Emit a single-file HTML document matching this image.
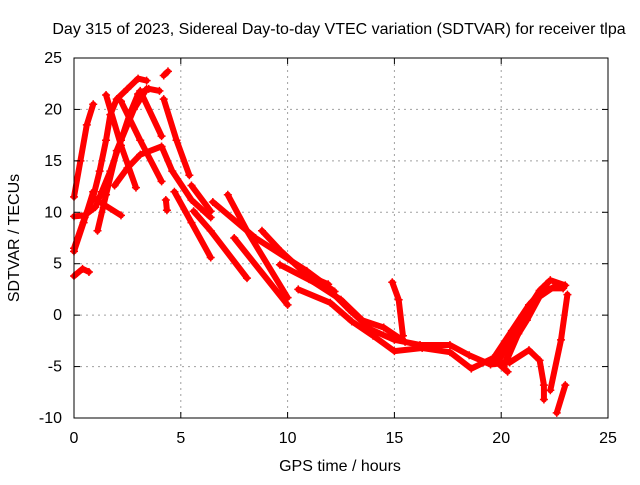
<!DOCTYPE html>
<html><head><meta charset="utf-8"><style>
body{margin:0;background:#fff}
svg text{font-family:"Liberation Sans",sans-serif;font-size:16px;fill:#000}
</style></head><body>
<svg width="640" height="480" id="c">
<text x="339" y="34" text-anchor="middle">Day 315 of 2023, Sidereal Day-to-day VTEC variation (SDTVAR) for receiver tlpa</text>
<text x="340" y="471" text-anchor="middle">GPS time / hours</text>
<text transform="translate(19,238) rotate(-90)" text-anchor="middle">SDTVAR / TECUs</text>
<g id="grid"></g>
<g id="marks"></g>
<rect x="74" y="58" width="534" height="360" fill="none" stroke="#000" stroke-width="1"/>
<g id="ticks"></g>
</svg>
<script>
const xTicks=[0,5,10,15,20,25];
const yTicks=[-10,-5,0,5,10,15,20,25];
const track1=[[0,11.5],[0.3,15],[0.6,18.5],[0.9,20.5]];
const track2=[[0,6.5],[0.5,9.5],[0.9,11.5],[1.2,14],[1.5,17],[1.7,19.5],[2,21],[2.5,22],[3,23],[3.4,22.8]];
const track3=[[0,9.6],[0.5,9.7],[1,10.5],[1.3,12],[1.7,14],[2.2,17],[2.6,19.5],[3,21.5],[3.5,22],[4,21.8]];
const track4=[[0,3.8],[0.4,4.5],[0.7,4.2]];
const track5=[[0,6.2],[0.45,9],[0.9,12]];
const track6=[[1.1,8.2],[1.5,11.7],[2,16],[2.8,20],[3.4,22]];
const track7=[[1.5,21.4],[2.2,16.5],[2.9,12.4]];
const track8=[[2.2,20.8],[3.1,17],[4.1,13]];
const track9=[[3.1,21.8],[4.1,17.4]];
const track10=[[4.2,21],[4.8,17],[5.4,13.6]];
const track11=[[1.9,12.6],[2.5,14.3],[3.1,15.6],[4.1,16.4],[4.6,14],[5.5,11.2],[6.4,9.5]];
const track12=[[0.9,11.4],[2.2,9.7]];
const track13=[[4.7,12],[5.5,9],[6.4,5.6]];
const track14=[[6.5,11],[8.5,7.5],[10.9,4.3],[12.2,2.3]];
const track15=[[7.2,11.7],[8.1,8.2],[10,1.7]];
const track16=[[8.8,8.2],[9.7,6.2],[10.9,3.9],[11.9,3.0]];
const track17=[[5.5,12.6],[6.4,10.1]];
const track18=[[5.6,10.1],[6.4,8.2],[8.1,3.6]];
const track19=[[7.5,7.5],[10,1]];
const track20=[[9.64,4.9],[11.98,2.4],[12.9,0.5],[13.9,-1.4],[15,-2.4],[16.2,-2.9],[17.6,-2.9],[18.5,-3.9],[19.5,-4.8],[20.4,-4.6],[21.3,-3.4],[21.8,-4.4],[22,-6.8],[22,-8.2]];
const track21=[[10.5,2.5],[12,1.2],[13,-0.6],[14,-2],[15,-3.5],[16.3,-3.2],[17.6,-3.6],[18.6,-5.2],[19.6,-4.2],[20.3,-5.5]];
const track22=[[19.9,-4.4],[20.9,-0.5],[21.8,2.4],[22.3,3.4],[23,2.9]];
const track23=[[19.7,-4],[20.5,-1.5],[21.3,1],[22,2.6],[22.9,2.6]];
const track24=[[22.3,-7.3],[22.8,-2.4],[23.1,2]];
const track25=[[22.6,-9.5],[23,-6.8]];
const track26=[[14.9,3.2],[15.2,1.5],[15.4,-2]];
const track27=[[4.2,23.3],[4.4,23.7]];
const track28=[[4.3,11.2],[4.35,10.2]];
const track29=[[20.1,-5],[20.6,-2.5],[21.2,-0.5],[21.8,1.8],[22.5,2.8]];
const track30=[[20.3,-4.2],[20.8,-1.8],[21.4,0.8],[22.1,3]];
const track31=[[11,3.5],[12.5,1.5],[13.5,-0.5],[14.5,-1.2],[15.5,-2.6]];
const tracks=[track1,track2,track3,track4,track5,track6,track7,track8,track9,track10,track11,track12,track13,track14,track15,track16,track17,track18,track19,track20,track21,track22,track23,track24,track25,track26,track27,track28,track29,track30,track31];
const X=t=>74+t*534/25, Y=v=>418-(v+10)*360/35;
const NS="http://www.w3.org/2000/svg";
const grid=document.getElementById('grid'),ticks=document.getElementById('ticks'),marks=document.getElementById('marks');
function mk(tag,attrs,parent){const e=document.createElementNS(NS,tag);for(const k in attrs)e.setAttribute(k,attrs[k]);parent.appendChild(e);return e;}
xTicks.forEach(t=>{const x=X(t);
 if(t>0&&t<25){const g=mk('line',{x1:x,x2:x,y1:58,y2:418,stroke:'#a0a0a0','stroke-dasharray':'2,4'},grid);}
 mk('line',{x1:x,x2:x,y1:418,y2:412,stroke:'#000'},ticks);mk('line',{x1:x,x2:x,y1:58,y2:64,stroke:'#000'},ticks);
 const l=mk('text',{x:x,y:443,'text-anchor':'middle'},ticks);l.textContent=t;
 
 });
yTicks.forEach(v=>{const y=Y(v);
 if(v>-10&&v<25){const g=mk('line',{x1:74,x2:608,y1:y,y2:y,stroke:'#a0a0a0','stroke-dasharray':'2,4'},grid);}
 mk('line',{x1:74,x2:80,y1:y,y2:y,stroke:'#000'},ticks);mk('line',{x1:608,x2:602,y1:y,y2:y,stroke:'#000'},ticks);
 const l=mk('text',{x:62,y:y+5,'text-anchor':'end'},ticks);l.textContent=v;
 
 });
tracks.forEach(tr=>{
 const p=mk('polyline',{points:tr.map(d=>X(d[0])+','+Y(d[1])).join(' '),fill:'none',stroke:'#ff0000','stroke-width':6,'stroke-linejoin':'round','stroke-linecap':'round'},marks);
 
 
 tr.forEach(d=>{const x=X(d[0]),y=Y(d[1]);
  const m=mk('path',{d:`M${x-4},${y}h8M${x},${y-4}v8`,stroke:'#ff0000','stroke-width':1.5},marks);
  
  });
});
</script>
</body></html>
